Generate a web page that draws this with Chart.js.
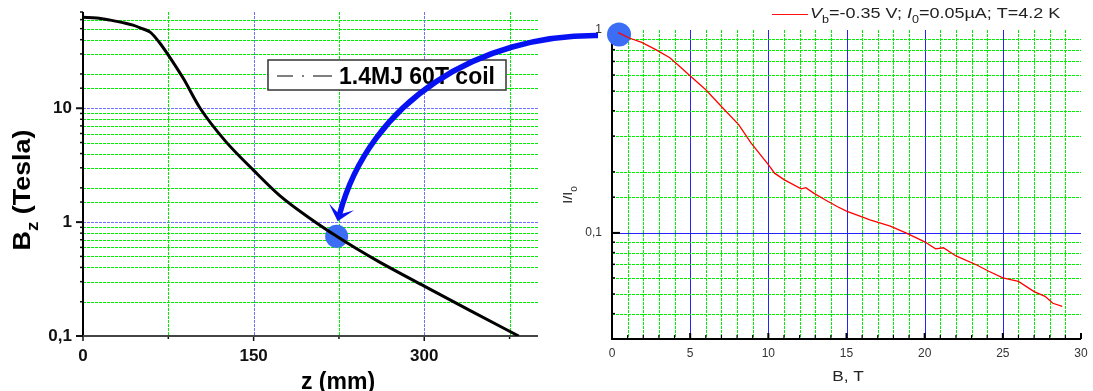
<!DOCTYPE html>
<html>
<head>
<meta charset="utf-8">
<script src="https://cdn.jsdelivr.net/npm/chart.js@4.4.1/dist/chart.umd.min.js"></script>
<style>
html, body { margin: 0; padding: 0; background: #fff; }
#wrap { position: relative; width: 1093px; height: 391px; overflow: hidden; }
#wrap canvas { position: absolute; left: 0; top: 0; }
</style>
</head>
<body>
<div id="wrap">
<canvas id="left" width="1093" height="391"></canvas>
<canvas id="right" width="1093" height="391"></canvas>
<canvas id="over" width="1093" height="391"></canvas>
</div>
<script>
const FONT = '"Liberation Sans", Arial, Helvetica, sans-serif';

// left panel: axial field of the coil, Bz (T) against z (mm)
const coilZ = [0, 12, 24, 35, 44, 52, 59, 67, 75, 88, 103, 125, 150, 173, 200, 223, 241, 260, 300, 340, 383];
const coilB = [63, 62, 59.4, 56.5, 53.7, 50, 46.6, 38, 29.3, 18.4, 10, 5.17, 2.85, 1.71, 1.07, 0.75, 0.58, 0.45, 0.274, 0.168, 0.1];
const coilName = '1.4MJ 60T coil';

// right panel: I/I0 against B (T)
const fieldB = [0.4, 1.1, 1.9, 2.8, 3.7, 4.3, 4.9, 6.0, 7.0, 8.1, 8.9, 10.0, 10.4, 11.0, 12.1, 12.4, 12.9, 13.6, 14.4, 15.0, 16.5, 17.8, 18.8, 20.0, 20.7, 21.2, 22.0, 23.3, 24.1, 25.0, 26.0, 27.0, 27.7, 28.2, 28.8];
const currentRatio = [0.97, 0.913, 0.869, 0.80, 0.73, 0.665, 0.603, 0.508, 0.42, 0.342, 0.277, 0.217, 0.197, 0.183, 0.165, 0.167, 0.157, 0.146, 0.135, 0.128, 0.116, 0.108, 0.100, 0.0904, 0.0835, 0.0845, 0.077, 0.0697, 0.0647, 0.060, 0.0577, 0.0514, 0.0487, 0.045, 0.0435];
const runLabel = [
	{t: 'V', it: true}, {t: 'b', sub: true}, {t: '=-0.35 V; '},
	{t: 'I', it: true}, {t: '0', sub: true}, {t: '=0.05\u00b5A; T=4.2 K'}
];

// the two marked points joined by the arrow
const leftMark = {x: 223, y: 0.75};
const rightMark = {x: 0.45, y: 0.95};

const DOT = '#3b6ef4';
const ARROW = '#0712f2';
const GREEN = '#00ee00';
const DASH = [3, 1];
const MAJOR = '#2525f5';

function isDecade(v) {
	const l = Math.log10(v);
	return Math.abs(l - Math.round(l)) < 1e-6;
}

// draws text made of parts (italic / subscript), returns its width
function drawRich(ctx, x, y, parts, size, weight, draw) {
	let cx = x;
	for (const p of parts) {
		const fs = p.sub ? size * 0.7 : size;
		ctx.font = (p.it ? 'italic ' : '') + (weight || 'normal') + ' ' + fs + 'px ' + FONT;
		if (draw !== false) ctx.fillText(p.t, cx, y + (p.sub ? size * 0.35 : 0));
		cx += ctx.measureText(p.t).width;
	}
	return cx - x;
}

function line(ctx, x1, y1, x2, y2) {
	ctx.beginPath();
	ctx.moveTo(x1, y1);
	ctx.lineTo(x2, y2);
	ctx.stroke();
}

// grid lines through the scale's own ticks; styleFor(value) -> {color, dash} or null
function gridLines(ctx, scale, ca, styleFor) {
	ctx.lineWidth = 1;
	scale.ticks.forEach(t => {
		const st = styleFor(t.value);
		if (!st) return;
		const p = Math.round(scale.getPixelForValue(t.value)) + 0.5;
		ctx.strokeStyle = st.color;
		ctx.setLineDash(st.dash);
		if (scale.isHorizontal()) line(ctx, p, ca.top, p, ca.bottom);
		else line(ctx, ca.left, p, ca.right, p);
	});
	ctx.setLineDash([]);
}

const leftDecor = {
	id: 'leftDecor',
	beforeDatasetsDraw(chart) {
		const {ctx, chartArea: ca, scales: {x, y}} = chart;
		ctx.save();
		gridLines(ctx, y, ca, v => (v <= 0.1 || v >= 70) ? null : {color: isDecade(v) ? '#7070ff' : GREEN, dash: DASH});
		gridLines(ctx, x, ca, v => (v <= 0 || v >= 400) ? null : {color: v % 150 === 0 ? '#7070ff' : GREEN, dash: DASH});
		// ticks, outside
		ctx.strokeStyle = '#111';
		y.ticks.forEach(t => {
			const p = y.getPixelForValue(t.value);
			const maj = isDecade(t.value);
			ctx.lineWidth = maj ? 2 : 1.5;
			line(ctx, ca.left - (maj ? 7 : 3), p, ca.left, p);
		});
		x.ticks.forEach(t => {
			const p = x.getPixelForValue(t.value);
			ctx.lineWidth = 1.5;
			line(ctx, p, ca.bottom, p, ca.bottom + (t.value % 150 === 0 ? 5 : 3));
		});
		ctx.lineWidth = 2;
		ctx.strokeStyle = '#000';
		line(ctx, ca.left, ca.top, ca.left, ca.bottom + 1);
		ctx.strokeStyle = '#444';
		line(ctx, ca.left, ca.bottom, ca.right, ca.bottom);
		ctx.restore();
	},
	afterDraw(chart) {
		const {ctx, chartArea: ca} = chart;
		ctx.save();
		// legend box
		const bx = ca.left + 185, by = ca.top + 48;
		ctx.fillStyle = '#fff';
		ctx.fillRect(bx, by, 238, 30);
		ctx.strokeStyle = '#333';
		ctx.lineWidth = 1.5;
		ctx.strokeRect(bx, by, 238, 30);
		ctx.strokeStyle = '#555';
		line(ctx, bx + 9, by + 16, bx + 25, by + 16);
		line(ctx, bx + 34, by + 16, bx + 36, by + 16);
		line(ctx, bx + 45, by + 16, bx + 64, by + 16);
		ctx.fillStyle = '#000';
		ctx.font = 'bold 23px ' + FONT;
		ctx.textBaseline = 'alphabetic';
		ctx.fillText(chart.data.datasets[0].label, bx + 71, by + 24);
		// axis titles
		ctx.save();
		ctx.translate(30, (ca.top + ca.bottom) / 2 + 16);
		ctx.rotate(-Math.PI / 2);
		ctx.scale(1.12, 1);
		const ttl = [{t: 'B'}, {t: 'z', sub: true}, {t: ' (Tesla)'}];
		const w = drawRich(ctx, 0, 0, ttl, 24, 'bold', false);
		drawRich(ctx, -w / 2, 0, ttl, 24, 'bold');
		ctx.restore();
		ctx.font = 'bold 23px ' + FONT;
		ctx.textAlign = 'center';
		ctx.fillText('z (mm)', 338, 389);
		ctx.restore();
	}
};

const rightDecor = {
	id: 'rightDecor',
	beforeDatasetsDraw(chart) {
		const {ctx, chartArea: ca, scales: {x, y}} = chart;
		ctx.save();
		gridLines(ctx, x, ca, v => (v <= 0 || v >= 30) ? null :
			(v % 5 === 0 ? {color: MAJOR, dash: []} : {color: GREEN, dash: DASH}));
		gridLines(ctx, y, ca, v => (v <= 0.031 || v >= 1) ? null :
			(isDecade(v) ? {color: MAJOR, dash: []} : {color: GREEN, dash: DASH}));
		// ticks, inside
		ctx.strokeStyle = '#000';
		x.ticks.forEach(t => {
			const p = x.getPixelForValue(t.value);
			const maj = t.value % 5 === 0;
			ctx.lineWidth = maj ? 2 : 1.2;
			line(ctx, p, ca.bottom, p, ca.bottom - (maj ? 6 : 4));
		});
		y.ticks.forEach(t => {
			const p = y.getPixelForValue(t.value);
			const maj = isDecade(t.value);
			ctx.lineWidth = maj ? 2 : 1.5;
			line(ctx, ca.left, p, ca.left + (maj ? 8 : 3), p);
		});
		ctx.lineWidth = 2;
		line(ctx, ca.left, ca.top, ca.left, ca.bottom + 1);
		line(ctx, ca.left, ca.bottom, ca.right, ca.bottom);
		ctx.restore();
	},
	afterDraw(chart) {
		const {ctx} = chart;
		ctx.save();
		ctx.fillStyle = '#222';
		ctx.textBaseline = 'alphabetic';
		// legend
		ctx.strokeStyle = '#ff1010';
		ctx.lineWidth = 1;
		line(ctx, 772, 14.5, 808, 14.5);
		ctx.save();
		ctx.translate(810, 18);
		ctx.scale(1.2, 1);
		drawRich(ctx, 0, 0, runLabel, 15);
		ctx.restore();
		// axis titles
		ctx.save();
		ctx.translate(572, 195);
		ctx.rotate(-Math.PI / 2);
		ctx.scale(1.1, 1);
		const ttl = [{t: 'I/I'}, {t: '0', sub: true}];
		const w = drawRich(ctx, 0, 0, ttl, 13, 'normal', false);
		drawRich(ctx, -w / 2, 0, ttl, 13);
		ctx.restore();
		ctx.save();
		ctx.translate(848, 381);
		ctx.scale(1.15, 1);
		ctx.font = '15px ' + FONT;
		ctx.textAlign = 'center';
		ctx.fillText('B, T', 0, 0);
		ctx.restore();
		ctx.restore();
	}
};

const leftChart = new Chart(document.getElementById('left'), {
	type: 'line',
	data: {
		datasets: [{
			label: coilName,
			data: coilZ.map((z, i) => ({x: z, y: coilB[i]})),
			borderColor: '#000',
			borderWidth: 3,
			pointRadius: 0,
			cubicInterpolationMode: 'monotone'
		}, {
			label: 'mark',
			data: [leftMark],
			showLine: false,
			pointRadius: 11.5,
			pointBorderWidth: 0,
			pointBackgroundColor: DOT,
			clip: false
		}]
	},
	options: {
		responsive: false,
		animation: false,
		events: [],
		layout: {padding: {left: 0, top: 12, right: 555, bottom: 0}},
		plugins: {legend: {display: false}, tooltip: {enabled: false}},
		scales: {
			x: {
				type: 'linear', min: 0, max: 400,
				ticks: {
					stepSize: 75, includeBounds: false, autoSkip: false, maxRotation: 0, padding: 10,
					color: '#111', font: {family: FONT, size: 17, weight: 'bold'},
					callback: v => v % 150 === 0 ? String(v) : ''
				},
				grid: {display: false, drawTicks: false},
				border: {display: false},
				afterFit: s => { s.height = 55; s.paddingLeft = 0; s.paddingRight = 0; }
			},
			y: {
				type: 'logarithmic', min: 0.1, max: 70,
				ticks: {
					autoSkip: false, padding: 11,
					color: '#111', font: {family: FONT, size: 17, weight: 'bold'},
					callback: v => isDecade(v) ? String(v).replace('.', ',') : ''
				},
				grid: {display: false, drawTicks: false},
				border: {display: false},
				afterFit: s => { s.width = 83; s.paddingTop = 0; s.paddingBottom = 0; }
			}
		}
	},
	plugins: [leftDecor]
});

const rightChart = new Chart(document.getElementById('right'), {
	type: 'line',
	data: {
		datasets: [{
			label: 'I/I0',
			data: fieldB.map((b, i) => ({x: b, y: currentRatio[i]})),
			borderColor: '#ff0000',
			borderWidth: 1.3,
			pointRadius: 0,
			tension: 0
		}, {
			label: 'mark',
			data: [rightMark],
			showLine: false,
			pointRadius: 12,
			pointBorderWidth: 0,
			pointBackgroundColor: DOT,
			clip: false
		}]
	},
	options: {
		responsive: false,
		animation: false,
		events: [],
		layout: {padding: {left: 572, top: 30, right: 6, bottom: 0}},
		plugins: {legend: {display: false}, tooltip: {enabled: false}},
		scales: {
			x: {
				type: 'linear', min: 0, max: 30,
				ticks: {
					stepSize: 1, autoSkip: false, maxRotation: 0, padding: 7,
					color: '#333', font: {family: FONT, size: 12},
					callback: v => v % 5 === 0 ? String(v) : ''
				},
				grid: {display: false, drawTicks: false},
				border: {display: false},
				afterFit: s => { s.height = 52; s.paddingLeft = 0; s.paddingRight = 0; }
			},
			y: {
				type: 'logarithmic', min: 0.03, max: 1,
				ticks: {
					autoSkip: false, padding: 10,
					color: '#333', font: {family: FONT, size: 12},
					callback: v => isDecade(v) ? String(v).replace('.', ',') : ''
				},
				grid: {display: false, drawTicks: false},
				border: {display: false},
				afterFit: s => { s.width = 40; s.paddingTop = 0; s.paddingBottom = 0; }
			}
		}
	},
	plugins: [rightDecor]
});

// arrow from the right marked point to the left one
function drawArrow() {
	const ctx = document.getElementById('over').getContext('2d');
	const a = {x: rightChart.scales.x.getPixelForValue(rightMark.x), y: rightChart.scales.y.getPixelForValue(rightMark.y)};
	const b = {x: leftChart.scales.x.getPixelForValue(leftMark.x), y: leftChart.scales.y.getPixelForValue(leftMark.y)};
	const p0 = {x: a.x - 21, y: a.y + 1};
	const tip = {x: b.x + 1, y: b.y - 15};
	const c1 = {x: p0.x - 118, y: p0.y - 1};
	const c2 = {x: tip.x + 32, y: tip.y - 121};
	let dx = tip.x - c2.x, dy = tip.y - c2.y;
	const len = Math.hypot(dx, dy);
	dx /= len; dy /= len;
	const nx = -dy, ny = dx;
	const notch = {x: tip.x - dx * 7, y: tip.y - dy * 7};
	ctx.strokeStyle = ARROW;
	ctx.fillStyle = ARROW;
	ctx.lineWidth = 5.5;
	ctx.beginPath();
	ctx.moveTo(p0.x, p0.y);
	ctx.bezierCurveTo(c1.x, c1.y, c2.x, c2.y, notch.x, notch.y);
	ctx.stroke();
	ctx.beginPath();
	ctx.moveTo(tip.x, tip.y);
	ctx.lineTo(tip.x - dx * 15 + nx * 13, tip.y - dy * 15 + ny * 13);
	ctx.lineTo(notch.x, notch.y);
	ctx.lineTo(tip.x - dx * 15 - nx * 13, tip.y - dy * 15 - ny * 13);
	ctx.closePath();
	ctx.fill();
}
drawArrow();
</script>
</body>
</html>
